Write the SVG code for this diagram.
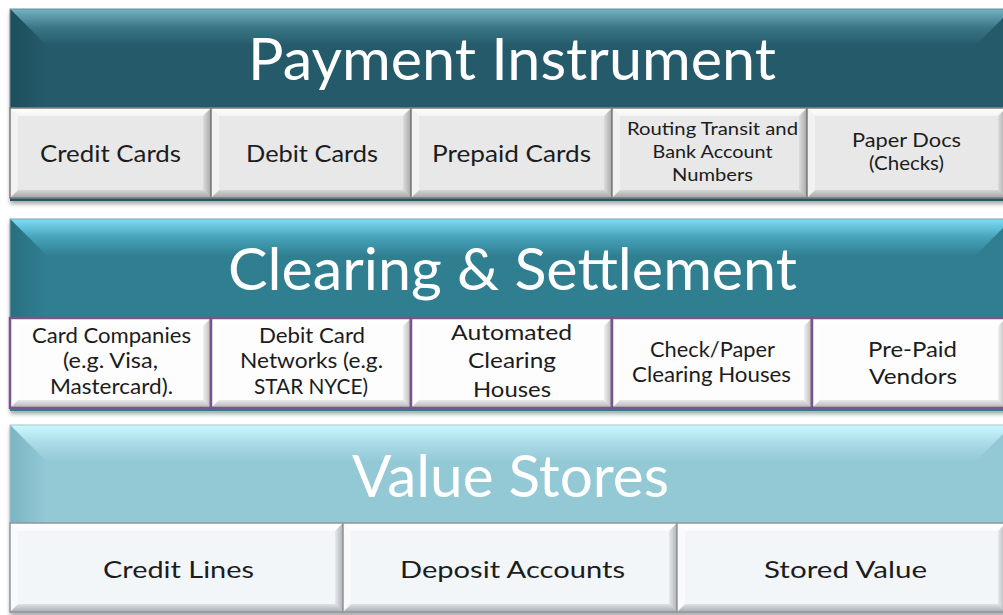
<svg xmlns="http://www.w3.org/2000/svg" width="1003" height="615" viewBox="0 0 1003 615">
  <defs>
    <style>
      .title { font-family: Lato, "Liberation Sans", sans-serif; font-size: 58px; fill: #ffffff; text-anchor: middle; }
      .lbl { font-family: Lato, "Liberation Sans", sans-serif; fill: #1c1c1c; text-anchor: middle; }
      .s24 { font-size: 24px; }
      .s22 { font-size: 22px; }
      .s21 { font-size: 21px; }
      .s20 { font-size: 20px; }
      .s18 { font-size: 18px; }
      .bt { fill: url(#boxTop); }
      .bl { fill: #ffffff; fill-opacity: 0.45; }
      .br { fill: url(#boxRight); }
      .bb { fill: url(#boxBottom); }
      .edge1 { fill: none; stroke: #7c7c7c; stroke-width: 1.5; }
      .edge2 { fill: none; stroke: #76568c; stroke-width: 2.5; }
      .edge3 { fill: none; stroke: #8f9699; stroke-width: 1.5; }
    </style>
    <filter id="shadow" x="-5%" y="-5%" width="110%" height="115%">
      <feDropShadow dx="0" dy="3" stdDeviation="2.2" flood-color="#000000" flood-opacity="0.35"/>
    </filter>
    <!-- box bevel shading -->
    <linearGradient id="boxTop" x1="0" y1="0" x2="0" y2="1">
      <stop offset="0" stop-color="#ffffff" stop-opacity="1"/>
      <stop offset="1" stop-color="#ffffff" stop-opacity="0.55"/>
    </linearGradient>
    <linearGradient id="boxRight" x1="0" y1="0" x2="1" y2="0">
      <stop offset="0" stop-color="#000000" stop-opacity="0.05"/>
      <stop offset="1" stop-color="#000000" stop-opacity="0.28"/>
    </linearGradient>
    <linearGradient id="boxBottom" x1="0" y1="0" x2="0" y2="1">
      <stop offset="0" stop-color="#000000" stop-opacity="0.08"/>
      <stop offset="1" stop-color="#000000" stop-opacity="0.3"/>
    </linearGradient>
    <!-- header bevel shading, one set per band -->
    <linearGradient id="top1" x1="0" y1="0" x2="0" y2="1">
      <stop offset="0" stop-color="#72b3c4"/>
      <stop offset="0.5" stop-color="#3a7686"/>
      <stop offset="1" stop-color="#245a69"/>
    </linearGradient>
    <linearGradient id="left1" x1="0" y1="0" x2="1" y2="0">
      <stop offset="0" stop-color="#1d4e5b"/>
      <stop offset="1" stop-color="#255b6a"/>
    </linearGradient>
    <linearGradient id="top2" x1="0" y1="0" x2="0" y2="1">
      <stop offset="0" stop-color="#7cdef6"/>
      <stop offset="0.5" stop-color="#46a2b8"/>
      <stop offset="1" stop-color="#2f7f91"/>
    </linearGradient>
    <linearGradient id="left2" x1="0" y1="0" x2="1" y2="0">
      <stop offset="0" stop-color="#286f80"/>
      <stop offset="1" stop-color="#307f91"/>
    </linearGradient>
    <linearGradient id="top3" x1="0" y1="0" x2="0" y2="1">
      <stop offset="0" stop-color="#cbf8ff"/>
      <stop offset="0.5" stop-color="#aadbe6"/>
      <stop offset="1" stop-color="#93c8d5"/>
    </linearGradient>
    <linearGradient id="left3" x1="0" y1="0" x2="1" y2="0">
      <stop offset="0" stop-color="#7bb5c2"/>
      <stop offset="1" stop-color="#94c9d6"/>
    </linearGradient>
  </defs>

  <rect x="0" y="0" width="1003" height="615" fill="#ffffff"/>

  <!-- ===== Band 1: Payment Instrument ===== -->
  <g id="payment-instrument">
    <rect x="10" y="9" width="1002" height="192" fill="#245a69" filter="url(#shadow)"/>
    <g id="payment-instrument-header">
      <rect x="10" y="9" width="1002" height="99" fill="#245a69"/>
      <polygon points="10,9 1012,9 975,46 47,46" fill="url(#top1)"/>
      <polygon points="10,9 47,46 47,108 10,108" fill="url(#left1)"/>
      <rect x="10" y="9" width="1002" height="99" fill="none" stroke="#6f8f98" stroke-width="1"/>
      <text class="title" x="512" y="80" textLength="528" lengthAdjust="spacingAndGlyphs">Payment Instrument</text>
    </g>
    <g id="credit-cards">
      <rect x="10" y="108" width="201" height="90" fill="#e8e8e8"/>
      <polygon class="bt" points="10,108 211,108 203,116 18,116"/>
      <polygon class="bl" points="10,108 18,116 18,190 10,198"/>
      <polygon class="br" points="211,108 211,198 203,190 203,116"/>
      <polygon class="bb" points="10,198 211,198 203,190 18,190"/>
      <rect class="edge1" x="10" y="108" width="201" height="90"/>
      <text class="lbl s24" x="110.5" y="162" textLength="141" lengthAdjust="spacingAndGlyphs">Credit Cards</text>
    </g>
    <g id="debit-cards">
      <rect x="211" y="108" width="200" height="90" fill="#e8e8e8"/>
      <polygon class="bt" points="211,108 411,108 403,116 219,116"/>
      <polygon class="bl" points="211,108 219,116 219,190 211,198"/>
      <polygon class="br" points="411,108 411,198 403,190 403,116"/>
      <polygon class="bb" points="211,198 411,198 403,190 219,190"/>
      <rect class="edge1" x="211" y="108" width="200" height="90"/>
      <text class="lbl s24" x="312" y="162" textLength="132" lengthAdjust="spacingAndGlyphs">Debit Cards</text>
    </g>
    <g id="prepaid-cards">
      <rect x="411" y="108" width="201" height="90" fill="#e8e8e8"/>
      <polygon class="bt" points="411,108 612,108 604,116 419,116"/>
      <polygon class="bl" points="411,108 419,116 419,190 411,198"/>
      <polygon class="br" points="612,108 612,198 604,190 604,116"/>
      <polygon class="bb" points="411,198 612,198 604,190 419,190"/>
      <rect class="edge1" x="411" y="108" width="201" height="90"/>
      <text class="lbl s24" x="511.5" y="162" textLength="159" lengthAdjust="spacingAndGlyphs">Prepaid Cards</text>
    </g>
    <g id="routing-numbers">
      <rect x="612" y="108" width="195" height="90" fill="#e8e8e8"/>
      <polygon class="bt" points="612,108 807,108 799,116 620,116"/>
      <polygon class="bl" points="612,108 620,116 620,190 612,198"/>
      <polygon class="br" points="807,108 807,198 799,190 799,116"/>
      <polygon class="bb" points="612,198 807,198 799,190 620,190"/>
      <rect class="edge1" x="612" y="108" width="195" height="90"/>
      <text class="lbl s18" x="712.5" y="135" textLength="171" lengthAdjust="spacingAndGlyphs">Routing Transit and</text>
      <text class="lbl s18" x="712.5" y="158" textLength="120" lengthAdjust="spacingAndGlyphs">Bank Account</text>
      <text class="lbl s18" x="712.5" y="181" textLength="81" lengthAdjust="spacingAndGlyphs">Numbers</text>
    </g>
    <g id="paper-docs">
      <rect x="807" y="108" width="199" height="90" fill="#e8e8e8"/>
      <polygon class="bt" points="807,108 1006,108 998,116 815,116"/>
      <polygon class="bl" points="807,108 815,116 815,190 807,198"/>
      <polygon class="br" points="1006,108 1006,198 998,190 998,116"/>
      <polygon class="bb" points="807,198 1006,198 998,190 815,190"/>
      <rect class="edge1" x="807" y="108" width="199" height="90"/>
      <text class="lbl s20" x="906.5" y="147" textLength="109" lengthAdjust="spacingAndGlyphs">Paper Docs</text>
      <text class="lbl s20" x="906.5" y="170" textLength="75" lengthAdjust="spacingAndGlyphs">(Checks)</text>
    </g>
  </g>

  <!-- ===== Band 2: Clearing & Settlement ===== -->
  <g id="clearing-settlement">
    <rect x="10" y="219" width="1002" height="192" fill="#2f7f91" filter="url(#shadow)"/>
    <g id="clearing-settlement-header">
      <rect x="10" y="219" width="1002" height="99" fill="#2f7f91"/>
      <polygon points="10,219 1012,219 975,256 47,256" fill="url(#top2)"/>
      <polygon points="10,219 47,256 47,318 10,318" fill="url(#left2)"/>
      <rect x="10" y="219" width="1002" height="99" fill="none" stroke="#7fa7b1" stroke-width="1"/>
      <text class="title" x="512.5" y="290" textLength="569" lengthAdjust="spacingAndGlyphs">Clearing &amp; Settlement</text>
    </g>
    <g id="card-companies">
      <rect x="10" y="318" width="201" height="90" fill="#fdfdfd"/>
      <polygon class="bt" points="10,318 211,318 203,326 18,326"/>
      <polygon class="bl" points="10,318 18,326 18,400 10,408"/>
      <polygon class="br" points="211,318 211,408 203,400 203,326"/>
      <polygon class="bb" points="10,408 211,408 203,400 18,400"/>
      <rect class="edge2" x="10" y="318" width="201" height="90"/>
      <text class="lbl s21" x="111.5" y="343" textLength="159" lengthAdjust="spacingAndGlyphs">Card Companies</text>
      <text class="lbl s21" x="110.5" y="368" textLength="95" lengthAdjust="spacingAndGlyphs">(e.g. Visa,</text>
      <text class="lbl s21" x="111.5" y="394" textLength="123" lengthAdjust="spacingAndGlyphs">Mastercard).</text>
    </g>
    <g id="debit-card-networks">
      <rect x="211" y="318" width="200" height="90" fill="#fdfdfd"/>
      <polygon class="bt" points="211,318 411,318 403,326 219,326"/>
      <polygon class="bl" points="211,318 219,326 219,400 211,408"/>
      <polygon class="br" points="411,318 411,408 403,400 403,326"/>
      <polygon class="bb" points="211,408 411,408 403,400 219,400"/>
      <rect class="edge2" x="211" y="318" width="200" height="90"/>
      <text class="lbl s21" x="312" y="343" textLength="106" lengthAdjust="spacingAndGlyphs">Debit Card</text>
      <text class="lbl s21" x="311.5" y="368" textLength="143" lengthAdjust="spacingAndGlyphs">Networks (e.g.</text>
      <text class="lbl s21" x="311" y="394" textLength="114" lengthAdjust="spacingAndGlyphs">STAR NYCE)</text>
    </g>
    <g id="automated-clearing-houses">
      <rect x="411" y="318" width="201" height="90" fill="#fdfdfd"/>
      <polygon class="bt" points="411,318 612,318 604,326 419,326"/>
      <polygon class="bl" points="411,318 419,326 419,400 411,408"/>
      <polygon class="br" points="612,318 612,408 604,400 604,326"/>
      <polygon class="bb" points="411,408 612,408 604,400 419,400"/>
      <rect class="edge2" x="411" y="318" width="201" height="90"/>
      <text class="lbl s22" x="511.5" y="340" textLength="121" lengthAdjust="spacingAndGlyphs">Automated</text>
      <text class="lbl s22" x="512" y="368" textLength="88" lengthAdjust="spacingAndGlyphs">Clearing</text>
      <text class="lbl s22" x="512" y="397" textLength="78" lengthAdjust="spacingAndGlyphs">Houses</text>
    </g>
    <g id="check-clearing-houses">
      <rect x="612" y="318" width="200" height="90" fill="#fdfdfd"/>
      <polygon class="bt" points="612,318 812,318 804,326 620,326"/>
      <polygon class="bl" points="612,318 620,326 620,400 612,408"/>
      <polygon class="br" points="812,318 812,408 804,400 804,326"/>
      <polygon class="bb" points="612,408 812,408 804,400 620,400"/>
      <rect class="edge2" x="612" y="318" width="200" height="90"/>
      <text class="lbl s21" x="712.5" y="357" textLength="125" lengthAdjust="spacingAndGlyphs">Check/Paper</text>
      <text class="lbl s21" x="711.5" y="382" textLength="159" lengthAdjust="spacingAndGlyphs">Clearing Houses</text>
    </g>
    <g id="pre-paid-vendors">
      <rect x="812" y="318" width="194" height="90" fill="#fdfdfd"/>
      <polygon class="bt" points="812,318 1006,318 998,326 820,326"/>
      <polygon class="bl" points="812,318 820,326 820,400 812,408"/>
      <polygon class="br" points="1006,318 1006,408 998,400 998,326"/>
      <polygon class="bb" points="812,408 1006,408 998,400 820,400"/>
      <rect class="edge2" x="812" y="318" width="194" height="90"/>
      <text class="lbl s22" x="912.5" y="357" textLength="89" lengthAdjust="spacingAndGlyphs">Pre-Paid</text>
      <text class="lbl s22" x="913" y="384" textLength="88" lengthAdjust="spacingAndGlyphs">Vendors</text>
    </g>
  </g>

  <!-- ===== Band 3: Value Stores ===== -->
  <g id="value-stores">
    <rect x="10" y="425" width="1002" height="188" fill="#93c8d5" filter="url(#shadow)"/>
    <g id="value-stores-header">
      <rect x="10" y="425" width="1002" height="98" fill="#93c8d5"/>
      <polygon points="10,425 1012,425 975,462 47,462" fill="url(#top3)"/>
      <polygon points="10,425 47,462 47,523 10,523" fill="url(#left3)"/>
      <rect x="10" y="425" width="1002" height="98" fill="none" stroke="#a9c6cd" stroke-width="1"/>
      <text class="title" x="510.5" y="497" textLength="317" lengthAdjust="spacingAndGlyphs">Value Stores</text>
    </g>
    <g id="credit-lines">
      <rect x="10" y="523" width="333" height="89" fill="#f2f6f9"/>
      <polygon class="bt" points="10,523 343,523 335,531 18,531"/>
      <polygon class="bl" points="10,523 18,531 18,604 10,612"/>
      <polygon class="br" points="343,523 343,612 335,604 335,531"/>
      <polygon class="bb" points="10,612 343,612 335,604 18,604"/>
      <rect class="edge3" x="10" y="523" width="333" height="89"/>
      <text class="lbl s24" x="178.5" y="578" textLength="151" lengthAdjust="spacingAndGlyphs">Credit Lines</text>
    </g>
    <g id="deposit-accounts">
      <rect x="343" y="523" width="334" height="89" fill="#f2f6f9"/>
      <polygon class="bt" points="343,523 677,523 669,531 351,531"/>
      <polygon class="bl" points="343,523 351,531 351,604 343,612"/>
      <polygon class="br" points="677,523 677,612 669,604 669,531"/>
      <polygon class="bb" points="343,612 677,612 669,604 351,604"/>
      <rect class="edge3" x="343" y="523" width="334" height="89"/>
      <text class="lbl s24" x="512.5" y="578" textLength="225" lengthAdjust="spacingAndGlyphs">Deposit Accounts</text>
    </g>
    <g id="stored-value">
      <rect x="677" y="523" width="329" height="89" fill="#f2f6f9"/>
      <polygon class="bt" points="677,523 1006,523 998,531 685,531"/>
      <polygon class="bl" points="677,523 685,531 685,604 677,612"/>
      <polygon class="br" points="1006,523 1006,612 998,604 998,531"/>
      <polygon class="bb" points="677,612 1006,612 998,604 685,604"/>
      <rect class="edge3" x="677" y="523" width="329" height="89"/>
      <text class="lbl s24" x="845.5" y="578" textLength="163" lengthAdjust="spacingAndGlyphs">Stored Value</text>
    </g>
  </g>
</svg>
